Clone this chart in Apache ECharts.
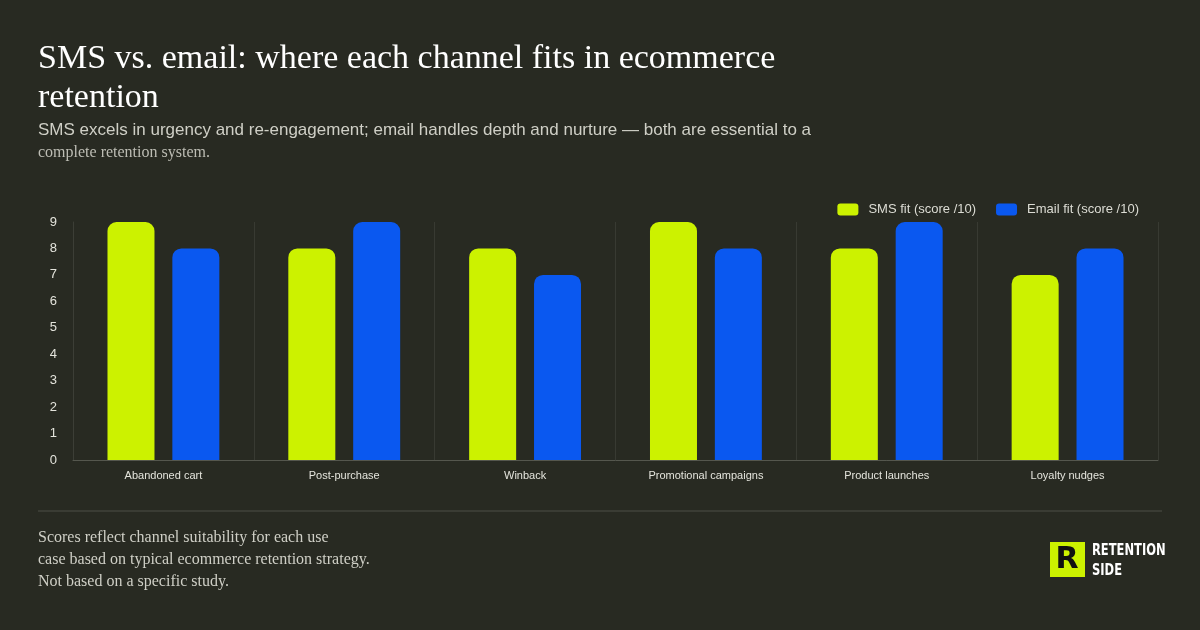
<!DOCTYPE html>
<html>
<head>
<meta charset="utf-8">
<style>
  html, body { margin: 0; padding: 0; background: #282a22; }
  #chart { width: 1200px; height: 630px; }
</style>
<script src="https://cdn.jsdelivr.net/npm/echarts@6/dist/echarts.min.js"></script>
</head>
<body>
<div id="chart"></div>
<script>
// use cases along the x axis
var categories = ['Abandoned cart', 'Post-purchase', 'Winback', 'Promotional campaigns', 'Product launches', 'Loyalty nudges']
var smsScores = [9, 8, 8, 9, 8, 7]
var emailScores = [8, 9, 7, 8, 9, 8]
var seriesNames = ['SMS fit (score /10)', 'Email fit (score /10)']

var bg = '#282a22'
var lime = '#ccf200'
var blue = '#0a58f0'
var serif = '"Liberation Serif", "DejaVu Serif", serif'
var sans = '"Liberation Sans", Arial, sans-serif'

var chart = echarts.init(document.getElementById('chart'))

chart.setOption({
  backgroundColor: bg,
  animation: false,
  legend: {
    top: 198,
    right: 56,
    itemWidth: 21,
    itemHeight: 12,
    itemGap: 20,
    icon: 'roundRect',
    data: seriesNames,
    textStyle: { color: '#dcdcd4', fontSize: 13, fontFamily: sans, padding: [0, 0, 0, 5] }
  },
  grid: {
    left: 73,
    right: 42,
    top: 222,
    bottom: 170
  },
  xAxis: {
    type: 'category',
    data: categories,
    axisTick: { show: false },
    axisLine: { lineStyle: { color: '#55574e', width: 1 } },
    splitLine: { show: true, lineStyle: { color: '#383a32', width: 1 } },
    axisLabel: { color: '#e4e4dc', fontSize: 11, fontFamily: sans, margin: 10 }
  },
  yAxis: {
    type: 'value',
    min: 0,
    max: 9,
    interval: 1,
    axisLine: { show: true, lineStyle: { color: '#3c3e36' } },
    axisTick: { show: false },
    splitLine: { show: false },
    axisLabel: { color: '#e4e4dc', fontSize: 13, fontFamily: sans, margin: 16 }
  },
  series: [
    {
      name: seriesNames[0],
      type: 'bar',
      data: smsScores,
      barWidth: 47,
      barGap: '38%',
      itemStyle: { color: lime, borderRadius: [9, 9, 0, 0] }
    },
    {
      name: seriesNames[1],
      type: 'bar',
      data: emailScores,
      barWidth: 47,
      itemStyle: { color: blue, borderRadius: [9, 9, 0, 0] }
    }
  ],
  graphic: [
    {
      type: 'text', left: 38, top: 40,
      style: {
        text: 'SMS vs. email: where each channel fits in ecommerce\nretention',
        fill: '#ffffff', font: '34px ' + serif, lineHeight: 39
      }
    },
    {
      type: 'text', left: 38, top: 122,
      style: {
        text: 'SMS excels in urgency and re-engagement; email handles depth and nurture \u2014 both are essential to a',
        fill: '#cfcfc6', font: '17px ' + sans
      }
    },
    {
      type: 'text', left: 38, top: 145,
      style: { text: 'complete retention system.', fill: '#bdbdb4', font: '16px ' + serif }
    },
    {
      type: 'line',
      shape: { x1: 38, y1: 511, x2: 1162, y2: 511 },
      style: { stroke: '#3a3c34', lineWidth: 2 }
    },
    {
      type: 'text', left: 38, top: 527,
      style: {
        text: 'Scores reflect channel suitability for each use\ncase based on typical ecommerce retention strategy.\nNot based on a specific study.',
        fill: '#cfcfc6', font: '16px ' + serif, lineHeight: 22
      }
    },
    {
      type: 'rect',
      shape: { x: 1050, y: 542, width: 35, height: 35 },
      style: { fill: lime }
    },
    {
      type: 'text', x: 1067, y: 560,
      style: {
        text: 'R', fill: '#111111', font: 'bold 30px "DejaVu Sans"',
        align: 'center', verticalAlign: 'middle'
      }
    },
    {
      type: 'text', x: 1092, y: 541, scaleX: 0.8,
      style: {
        text: 'RETENTION\nSIDE', fill: '#ffffff',
        font: 'bold 16px "DejaVu Sans Condensed", "Liberation Sans Narrow", sans-serif',
        lineHeight: 20
      }
    }
  ]
})
</script>
</body>
</html>
